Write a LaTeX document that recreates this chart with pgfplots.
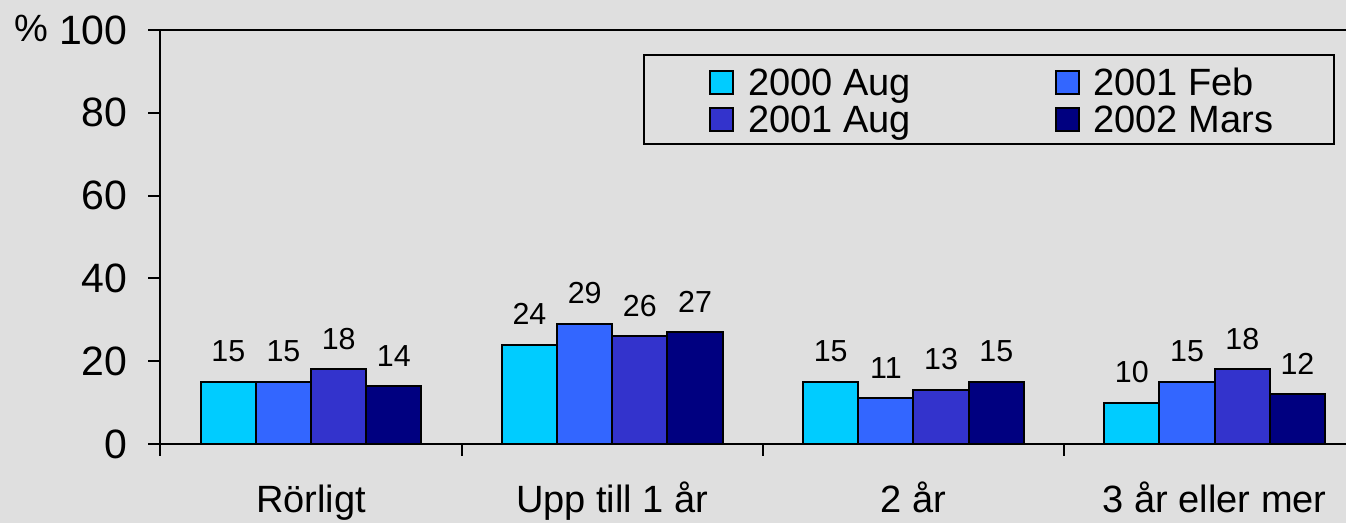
\documentclass[border=0pt]{standalone}
\usepackage{pgfplots}
\pgfplotsset{compat=1.18}
\usepackage{fontspec}
\setmainfont{Liberation Sans}

\definecolor{bgcol}{HTML}{DFDFDF}
\definecolor{cA}{HTML}{00CCFF}
\definecolor{cB}{HTML}{3366FF}
\definecolor{cC}{HTML}{3333CC}
\definecolor{cD}{HTML}{000080}

\begin{document}
\begin{tikzpicture}
\fill[bgcol] (0,0) rectangle (673pt,261.5pt);
\begin{axis}[
  at={(80.25pt,39.5pt)}, anchor=south west,
  scale only axis,
  width=592.75pt, height=207pt,
  xmin=-0.5, xmax=3.436,
  ymin=0, ymax=100,
  clip=false,
  axis x line=bottom, axis y line=left,
  axis line style={-, line width=1pt, black},
  tick align=outside,
  major tick length=6pt,
  tick style={line width=1pt, black},
  /pgf/number format/assume math mode=true,
  ytick={0,20,40,60,80,100},
  yticklabel style={anchor=east, inner sep=0pt, xshift=-10.25pt, font=\fontsize{20.5}{22}\selectfont},
  xtick={-0.5,0.5,1.5,2.5},
  xticklabels={},
  extra x ticks={0,1,2,3},
  extra x tick labels={Rörligt, Upp till 1 år, 2 år, 3 år eller mer},
  extra x tick style={major tick length=0pt},
  xticklabel style={anchor=base, inner sep=0pt, yshift=-34.5pt, font=\fontsize{19}{21}\selectfont},
  ybar=0pt, bar width=27.6pt,
  nodes near coords,
  every node near coord/.append style={anchor=south, inner sep=0pt, yshift=9.5pt, font=\fontsize{15.2}{17}\selectfont},
  legend columns=2,
  legend image code/.code={\draw[#1, draw=black, line width=1pt] (0.5pt,-5.75pt) rectangle (12pt,5.75pt);},
  legend style={draw=none, fill=none, inner sep=0pt,
    at={(0.4627,0.9186)}, anchor=north west,
    nodes={inner sep=0pt, text height=15.9pt, text depth=2.6pt, font=\fontsize{19}{21}\selectfont},
    /tikz/every odd column/.append style={column sep=7pt},
    /tikz/every even column/.append style={column sep=71.7pt}},
  legend cell align=left,
]
% 2000 Aug
\addplot[fill=cA, draw=black, line width=1pt] coordinates {(0,15) (1,24) (2,15) (3,10)};
% 2001 Feb
\addplot[fill=cB, draw=black, line width=1pt] coordinates {(0,15) (1,29) (2,11) (3,15)};
% 2001 Aug
\addplot[fill=cC, draw=black, line width=1pt] coordinates {(0,18) (1,26) (2,13) (3,18)};
% 2002 Mars
\addplot[fill=cD, draw=black, line width=1pt] coordinates {(0,14) (1,27) (2,15) (3,12)};
\legend{2000 Aug, 2001 Feb, 2001 Aug, 2002 Mars}

% top line and legend frame
\draw[line width=1pt, black] (rel axis cs:0,1) -- (rel axis cs:1,1);
\draw[line width=1pt, black] (rel axis cs:0.4078,0.7246) rectangle (rel axis cs:0.9899,0.9396);
\node[anchor=base east, inner sep=0pt, xshift=-55.75pt, yshift=-6pt, font=\fontsize{19}{21}\selectfont] at (rel axis cs:0,1) {\%};
\end{axis}
\pgfresetboundingbox
\path[use as bounding box] (0,0) rectangle (673pt,261.5pt);
\end{tikzpicture}
\end{document}
